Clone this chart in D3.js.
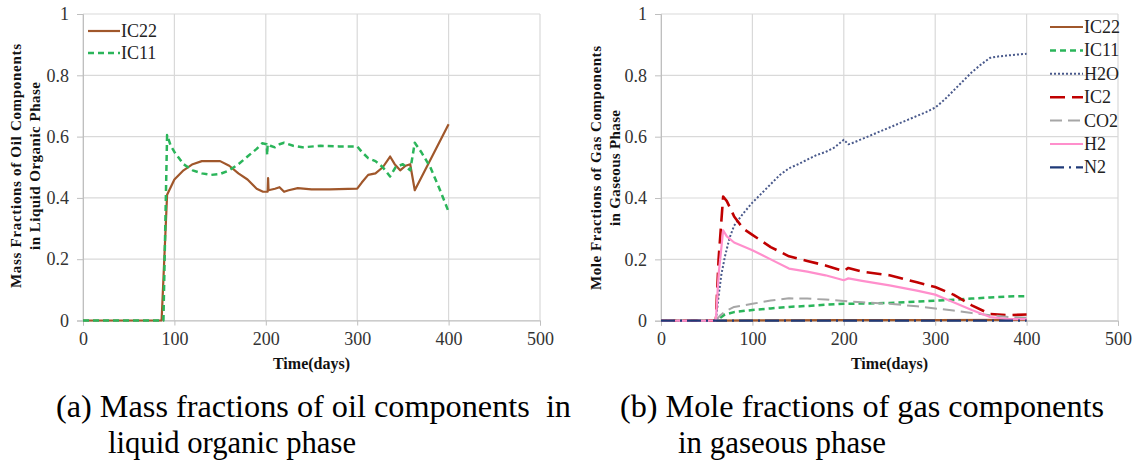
<!DOCTYPE html>
<html><head><meta charset="utf-8">
<script src="https://cdn.jsdelivr.net/npm/d3@7"></script>
<style>
html,body{margin:0;padding:0;background:#fff;}
</style></head>
<body>
<svg id="chart" width="1137" height="461"></svg>
<script>
// ---------- data ----------
const xTicks = [0, 100, 200, 300, 400, 500];
const yTicks = [0, 0.2, 0.4, 0.6, 0.8, 1];
const yTickLabels = ["0", "0.2", "0.4", "0.6", "0.8", "1"];

// (a) liquid organic phase
const oilIC22Days = [0, 86, 92, 100, 110, 120, 130, 150, 160, 170, 180, 190, 197, 202, 202.5, 203, 210, 215, 220, 225, 235, 250, 270, 300, 305, 312, 320, 328, 336, 341, 347, 353, 358, 363, 400];
const oilIC22 = [0, 0, 0.41, 0.46, 0.49, 0.51, 0.52, 0.52, 0.505, 0.48, 0.46, 0.43, 0.42, 0.42, 0.465, 0.425, 0.43, 0.435, 0.42, 0.425, 0.432, 0.428, 0.428, 0.43, 0.45, 0.475, 0.48, 0.5, 0.535, 0.51, 0.49, 0.505, 0.51, 0.425, 0.64];
const oilIC11Days = [0, 88, 92, 96, 100, 110, 120, 130, 140, 150, 160, 170, 180, 190, 196, 201, 201.5, 202, 205, 210, 215, 220, 230, 240, 260, 280, 300, 305, 312, 320, 328, 336, 342, 350, 358, 363, 370, 380, 390, 400];
const oilIC11 = [0, 0, 0.605, 0.57, 0.55, 0.51, 0.49, 0.48, 0.475, 0.478, 0.49, 0.51, 0.535, 0.56, 0.578, 0.575, 0.54, 0.575, 0.57, 0.565, 0.575, 0.58, 0.57, 0.565, 0.57, 0.568, 0.568, 0.55, 0.53, 0.52, 0.5, 0.47, 0.5, 0.51, 0.49, 0.58, 0.55, 0.5, 0.43, 0.355];

// (b) gaseous phase
const gasIC22Days = [0, 60, 100, 200, 300, 400];
const gasIC22 = [0, 0, 0.001, 0.002, 0.002, 0.003];
const gasIC11Days = [0, 60, 65, 70, 80, 100, 120, 140, 160, 180, 200, 220, 250, 280, 300, 320, 340, 360, 380, 400];
const gasIC11 = [0, 0, 0.01, 0.02, 0.028, 0.035, 0.04, 0.045, 0.048, 0.052, 0.055, 0.056, 0.058, 0.062, 0.065, 0.068, 0.072, 0.076, 0.079, 0.08];
const gasH2ODays = [0, 60, 63, 66, 70, 75, 80, 90, 100, 110, 120, 130, 140, 150, 160, 170, 180, 190, 200, 205, 210, 230, 250, 270, 290, 300, 310, 320, 330, 340, 350, 360, 370, 380, 390, 400];
const gasH2O = [0, 0, 0.08, 0.15, 0.21, 0.27, 0.31, 0.35, 0.385, 0.415, 0.445, 0.475, 0.497, 0.51, 0.525, 0.54, 0.55, 0.565, 0.59, 0.575, 0.58, 0.605, 0.63, 0.655, 0.68, 0.695, 0.72, 0.75, 0.78, 0.81, 0.835, 0.857, 0.862, 0.865, 0.868, 0.87];
const gasIC2Days = [0, 60, 63, 68, 72, 80, 90, 100, 120, 140, 160, 180, 200, 205, 220, 250, 280, 300, 320, 340, 360, 380, 400];
const gasIC2 = [0, 0, 0.2, 0.405, 0.39, 0.34, 0.3, 0.28, 0.24, 0.21, 0.195, 0.18, 0.162, 0.172, 0.16, 0.148, 0.125, 0.11, 0.085, 0.05, 0.022, 0.018, 0.02];
const gasCO2Days = [0, 60, 65, 70, 80, 90, 100, 120, 140, 160, 180, 200, 220, 250, 280, 300, 320, 340, 360, 380, 400];
const gasCO2 = [0, 0, 0.018, 0.03, 0.045, 0.05, 0.055, 0.066, 0.073, 0.072, 0.069, 0.064, 0.06, 0.055, 0.047, 0.04, 0.033, 0.025, 0.018, 0.012, 0.01];
const gasH2Days = [0, 60, 63, 68, 72, 80, 100, 120, 140, 160, 180, 200, 205, 220, 250, 280, 300, 320, 340, 360, 380, 400];
const gasH2 = [0, 0, 0.15, 0.295, 0.275, 0.255, 0.23, 0.2, 0.17, 0.16, 0.148, 0.132, 0.138, 0.13, 0.115, 0.098, 0.085, 0.06, 0.035, 0.012, 0.005, 0.005];
const gasN2Days = [0, 100, 200, 300, 400];
const gasN2 = [0, 0, 0, 0, 0];

// ---------- drawing ----------
const SERIF = '"Liberation Serif","Times New Roman",serif';
const svg = d3.select("#chart");
const zip = (t, v) => t.map((d, i) => [d, v[i]]);

const styles = {
  IC22: {color: "#a0572b", dash: null, w: 2.2},
  IC11: {color: "#2bb55a", dash: "6,4", w: 2.5},
  H2O:  {color: "#4a5a8c", dash: "2,2", w: 2},
  IC2:  {color: "#c00000", dash: "15,7", w: 2.6},
  CO2:  {color: "#a6a6a6", dash: "12,6", w: 2},
  H2:   {color: "#ff8fcc", dash: null, w: 2.2},
  N2:   {color: "#1f3a78", dash: "14,5,2,5", w: 2.2}
};

function panel(cfg) {
  const x = d3.scaleLinear().domain([0, 500]).range([cfg.x0, cfg.x1]);
  const y = d3.scaleLinear().domain([0, 1]).range([cfg.y0, cfg.y1]);
  const g = svg.append("g");

  // gridlines
  g.append("g").selectAll("line").data(yTicks).join("line")
    .attr("x1", cfg.x0).attr("x2", cfg.x1)
    .attr("y1", d => y(d)).attr("y2", d => y(d))
    .attr("stroke", "#d9d9d9").attr("stroke-width", 1.2);
  g.append("g").selectAll("line").data(xTicks).join("line")
    .attr("x1", d => x(d)).attr("x2", d => x(d))
    .attr("y1", cfg.y0).attr("y2", cfg.y1)
    .attr("stroke", "#d9d9d9").attr("stroke-width", 1.2);

  // axes
  const xa = g.append("g").attr("transform", `translate(0,${cfg.y0})`)
    .call(d3.axisBottom(x).tickValues(xTicks).tickSize(5).tickPadding(7).tickFormat(d3.format("d")));
  xa.attr("font-family", null);
  xa.select(".domain").attr("stroke", "#bfbfbf");
  xa.selectAll(".tick line").attr("stroke", "#bfbfbf");
  xa.selectAll("text").attr("font-size", 18).attr("fill", "#333").style("font-family", SERIF);

  const ya = g.append("g").attr("transform", `translate(${cfg.x0},0)`)
    .call(d3.axisLeft(y).tickValues(yTicks).tickSize(6).tickPadding(8).tickFormat((d, i) => yTickLabels[i]));
  ya.attr("font-family", null);
  ya.select(".domain").attr("stroke", "#bfbfbf");
  ya.selectAll(".tick line").attr("stroke", "#bfbfbf");
  ya.selectAll("text").attr("font-size", 18).attr("fill", "#333").style("font-family", SERIF);

  // series
  const line = d3.line().x(d => x(d[0])).y(d => y(d[1]));
  cfg.series.forEach(s => {
    const st = styles[s.name];
    g.append("path").datum(zip(s.t, s.v))
      .attr("d", line).attr("fill", "none")
      .attr("stroke", st.color).attr("stroke-width", st.w)
      .attr("stroke-dasharray", st.dash)
      .attr("stroke-linejoin", "round");
  });

  // legend
  cfg.legend.items.forEach((name, i) => {
    const st = styles[name];
    const ly = cfg.legend.y + i * cfg.legend.dy;
    g.append("line").attr("x1", cfg.legend.x).attr("x2", cfg.legend.x + cfg.legend.len)
      .attr("y1", ly).attr("y2", ly)
      .attr("stroke", st.color).attr("stroke-width", st.w)
      .attr("stroke-dasharray", st.dash);
    g.append("text").attr("x", cfg.legend.x + cfg.legend.len + 1).attr("y", ly + 6)
      .attr("font-size", 18).attr("fill", "#222").style("font-family", SERIF).text(name);
  });

  // axis titles
  g.append("text").attr("x", (cfg.x0 + cfg.x1) / 2).attr("y", 369)
    .attr("text-anchor", "middle").attr("font-size", 16).attr("font-weight", "bold")
    .attr("fill", "#111").style("font-family", SERIF).text("Time(days)");
  cfg.yTitle.forEach((t, i) => {
    g.append("text")
      .attr("transform", `translate(${cfg.yTitleX[i]},${cfg.yTitleY}) rotate(-90)`)
      .attr("text-anchor", "middle").attr("font-size", 15).attr("font-weight", "bold")
      .attr("textLength", cfg.yTitleW[i]).attr("lengthAdjust", "spacing")
      .attr("fill", "#111").style("font-family", SERIF).text(t);
  });

  // caption
  cfg.caption.forEach(c => {
    g.append("text").attr("x", c.x).attr("y", c.y)
      .attr("font-size", 32).attr("fill", "#000").style("font-family", SERIF)
      .attr("textLength", c.w).attr("lengthAdjust", "spacingAndGlyphs")
      .style("white-space", "pre").text(c.text);
  });
}

panel({
  x0: 83, x1: 540, y0: 320.5, y1: 14,
  series: [
    {name: "IC22", t: oilIC22Days, v: oilIC22},
    {name: "IC11", t: oilIC11Days, v: oilIC11}
  ],
  legend: {x: 88, y: 31, dy: 22, len: 32, items: ["IC22", "IC11"]},
  yTitle: ["Mass Fractions of Oil Components", "in Liquid Organic Phase"],
  yTitleX: [21, 40], yTitleY: 166, yTitleW: [244, 168],
  caption: [
    {text: "(a) Mass fractions of oil components  in", x: 56, y: 417, w: 515},
    {text: "liquid organic phase", x: 108, y: 453, w: 248}
  ]
});

panel({
  x0: 661, x1: 1118, y0: 320.7, y1: 14,
  series: [
    {name: "IC22", t: gasIC22Days, v: gasIC22},
    {name: "IC11", t: gasIC11Days, v: gasIC11},
    {name: "H2O", t: gasH2ODays, v: gasH2O},
    {name: "IC2", t: gasIC2Days, v: gasIC2},
    {name: "CO2", t: gasCO2Days, v: gasCO2},
    {name: "H2", t: gasH2Days, v: gasH2},
    {name: "N2", t: gasN2Days, v: gasN2}
  ],
  legend: {x: 1050, y: 27, dy: 23.4, len: 33, items: ["IC22", "IC11", "H2O", "IC2", "CO2", "H2", "N2"]},
  yTitle: ["Mole Fractions of Gas Components", "in Gaseous Phase"],
  yTitleX: [601, 620], yTitleY: 168, yTitleW: [244, 116],
  caption: [
    {text: "(b) Mole fractions of gas components", x: 620, y: 417, w: 484},
    {text: "in gaseous phase", x: 678, y: 453, w: 208}
  ]
});
</script>
</body></html>
